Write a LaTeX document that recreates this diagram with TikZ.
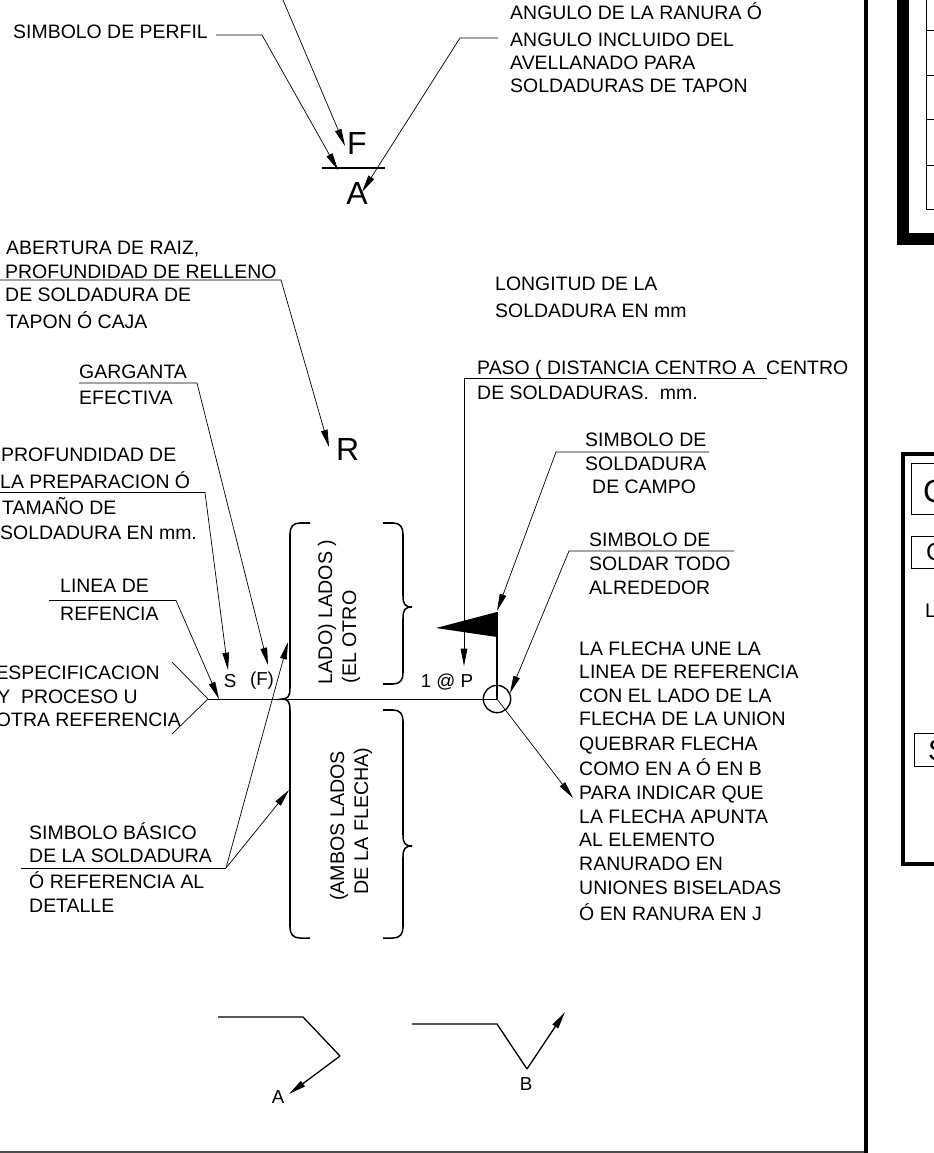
\documentclass[tikz,border=0pt]{standalone}
\usepackage{fontspec}
\setmainfont{Liberation Sans}
\usetikzlibrary{arrows.meta}

\tikzset{
    lbl/.style={anchor=base west, inner sep=0pt, font=\fontsize{16.6}{18}\selectfont},
    lblr/.style={lbl, anchor=base east},
    vlbl/.style={inner sep=0pt, rotate=90, font=\fontsize{16.8}{18}\selectfont},
    weldsym/.style={inner sep=0pt, font=\fontsize{27.3}{30}\selectfont},
    smallsym/.style={inner sep=0pt, font=\fontsize{16}{18}\selectfont},
    ldr/.style={black, line width=0.6pt},
    ldrtip/.style={ldr, -{Triangle[length=0.52cm, width=0.2cm]}},
    brc/.style={line width=1.3pt},
    bent/.style={line width=1.1pt}
}

\begin{document}
\begin{tikzpicture}[x=0.03cm, y=-0.03cm]
    \useasboundingbox (0, 0) rectangle (934, 1153);

    % Sheet borders
    \draw[line width=0.12cm] (866, 0) -- (866, 1153);
    \draw[line width=1.2pt, black!70] (0, 1152) -- (864, 1152);

    % Neighbouring table, top right
    \draw[line width=0.36cm] (903, 0) -- (903, 238.5) -- (934, 238.5);
    \draw[line width=0.6pt] (926, 0) -- (926, 209) -- (934, 209);
    \foreach \y in {30, 75, 119, 165} {
        \draw[line width=0.6pt] (926, \y) -- (934, \y);
    }

    % Neighbouring panel, lower right
    \draw[line width=0.12cm] (934, 454) -- (903, 454) -- (903, 864) -- (934, 864);
    \draw[line width=0.7pt] (934, 463) -- (911, 463) -- (911, 514) -- (934, 514);
    \draw[line width=0.7pt] (934, 536) -- (911, 536) -- (911, 568) -- (934, 568);
    \draw[line width=0.7pt] (934, 733) -- (914, 733) -- (914, 766) -- (934, 766);
    \node[weldsym, anchor=base west] (panelc) at (923, 502) {C};
    \node[inner sep=0pt, anchor=base west, font=\fontsize{21}{24}\selectfont] (panelcc) at (926, 560) {C};
    \node[inner sep=0pt, anchor=base west, font=\fontsize{16.8}{18}\selectfont] (panell) at (925, 617) {L};
    \node[inner sep=0pt, anchor=base west, font=\fontsize{25}{28}\selectfont] (panels) at (928, 760) {S};

    % Upper symbol F over A
    \node[weldsym, anchor=base west] (symf) at (347, 154) {F};
    \node[weldsym, anchor=base] (syma) at (357, 204) {A};
    \draw[line width=1pt] (322, 168) -- (385, 168);

    \node[lbl] (perfil) at (13, 39) {SIMBOLO DE PERFIL};
    \node[lbl] (angulo1) at (510, 20) {ANGULO DE LA RANURA Ó};
    \node[lbl] (angulo2) at (510, 47) {ANGULO INCLUIDO DEL};
    \node[lbl] (angulo3) at (510, 70) {AVELLANADO PARA};
    \node[lbl] (angulo4) at (510, 93) {SOLDADURAS DE TAPON};

    \coordinate (topend) at (283, 0);
    \coordinate (ftip) at (345, 146);
    \coordinate (perfilend) at (216, 35);
    \coordinate (perfilknee) at (262, 35);
    \coordinate (perfiltip) at (338, 170);
    \coordinate (anguloend) at (498, 38);
    \coordinate (anguloknee) at (460, 38);
    \coordinate (angulotip) at (362, 192);
    \draw[ldrtip] (topend) -- (ftip);
    \draw[ldrtip] (perfilend) -- (perfilknee) -- (perfiltip);
    \draw[ldrtip] (anguloend) -- (anguloknee) -- (angulotip);

    % Root opening
    \node[lbl] (raiz1) at (6, 254) {ABERTURA DE RAIZ,};
    \node[lbl] (raiz2) at (5, 278) {PROFUNDIDAD DE RELLENO};
    \node[lbl] (raiz3) at (5, 301) {DE SOLDADURA DE};
    \node[lbl] (raiz4) at (6, 328) {TAPON Ó CAJA};
    \node[weldsym, anchor=base west] (symr) at (336, 460) {R};
    \coordinate (raizend) at (0, 280);
    \coordinate (raizknee) at (281, 280);
    \coordinate (raiztip) at (329, 447);
    \draw[ldrtip] (raizend) -- (raizknee) -- (raiztip);

    % Weld length and pitch
    \node[lbl] (long1) at (495, 290) {LONGITUD DE LA};
    \node[lbl] (long2) at (495, 317) {SOLDADURA EN mm};
    \node[lbl] (paso1) at (477, 374) {PASO ( DISTANCIA CENTRO A \ CENTRO};
    \node[lbl] (paso2) at (477, 399) {DE SOLDADURAS. \ mm.};
    \coordinate (pasoend) at (767, 378);
    \coordinate (pasoknee) at (464, 378);
    \coordinate (pasotip) at (464, 666);
    \draw[ldrtip] (pasoend) -- (pasoknee) -- (pasotip);

    % Effective throat
    \node[lbl] (garganta1) at (79, 378) {GARGANTA};
    \node[lbl] (garganta2) at (79, 404) {EFECTIVA};
    \coordinate (gargend) at (79, 383);
    \coordinate (gargknee) at (197, 383);
    \coordinate (gargtip) at (268, 665);
    \draw[ldrtip] (gargend) -- (gargknee) -- (gargtip);

    % Groove depth
    \node[lbl] (prof1) at (1, 461) {PROFUNDIDAD DE};
    \node[lbl] (prof2) at (0, 488) {LA PREPARACION Ó};
    \node[lbl] (prof3) at (2, 514) {TAMAÑO DE};
    \node[lbl] (prof4) at (0, 539) {SOLDADURA EN mm.};
    \coordinate (profend) at (0, 492.5);
    \coordinate (profknee) at (205, 492.5);
    \coordinate (proftip) at (228, 670);
    \draw[ldrtip] (profend) -- (profknee) -- (proftip);

    % Reference line with tail
    \node[lbl] (linea1) at (60, 592) {LINEA DE};
    \node[lbl] (linea2) at (60, 620) {REFENCIA};
    \node[lblr] (esp1) at (160, 679) {ESPECIFICACION};
    \node[lblr] (esp2) at (138, 703) {Y \ PROCESO U};
    \node[lblr] (esp3) at (181, 726) {OTRA REFERENCIA};
    \coordinate (lineaend) at (49, 600.5);
    \coordinate (lineaknee) at (176, 600.5);
    \coordinate (lineatip) at (219, 699);
    \draw[ldrtip] (lineaend) -- (lineaknee) -- (lineatip);

    \coordinate (tailtop) at (172, 662);
    \coordinate (tailbot) at (172, 734);
    \coordinate (refstart) at (208, 699);
    \coordinate (refend) at (497, 699);
    \draw[ldr] (tailtop) -- (refstart) -- (tailbot);
    \draw[ldr] (refstart) -- (refend);
    \node[smallsym, anchor=center] (dims) at (230, 681) {S};
    \node[smallsym, anchor=center] (dimf) at (262, 681) {(F)};
    \node[smallsym, anchor=center] (dimp) at (447, 682) {1 @ P};

    % Braces
    \draw[brc] (310, 523) -- (300, 523) .. controls (293, 523) and (290, 527) .. (290, 534) -- (290, 688)
        .. controls (290, 696) and (288, 699) .. (282, 699)
        .. controls (288, 699) and (290, 702) .. (290, 710) -- (290, 927)
        .. controls (290, 934) and (293, 938) .. (300, 938) -- (310, 938);
    \draw[brc] (383, 523) -- (393, 523) .. controls (400, 523) and (403, 527) .. (403, 534) -- (403, 596)
        .. controls (403, 604) and (405, 607) .. (412, 607)
        .. controls (405, 607) and (403, 610) .. (403, 618) -- (403, 673)
        .. controls (403, 680) and (400, 684) .. (393, 684) -- (383, 684);
    \draw[brc] (383, 710) -- (393, 710) .. controls (400, 710) and (403, 714) .. (403, 721) -- (403, 835)
        .. controls (403, 843) and (405, 846) .. (412, 846)
        .. controls (405, 846) and (403, 849) .. (403, 857) -- (403, 927)
        .. controls (403, 934) and (400, 938) .. (393, 938) -- (383, 938);
    \node[vlbl] (lado1) at (327, 612) {LADO) LADOS )};
    \node[vlbl] (lado2) at (351, 637) {(EL OTRO};
    \node[vlbl] (ambos1) at (339, 826) {(AMBOS LADOS};
    \node[vlbl] (ambos2) at (363, 821) {DE LA FLECHA)};

    % Field weld flag and weld-all-around circle
    \coordinate (flagtip) at (436, 628);
    \coordinate (flagtop) at (497, 612);
    \coordinate (flagbot) at (497, 637);
    \fill (flagtip) -- (flagtop) -- (flagbot) -- cycle;
    \draw[line width=1.2pt] (flagtop) -- (refend);
    \node[draw, circle, line width=1.2pt, minimum size=0.82cm, inner sep=0pt] (around) at (refend) {};

    \node[lbl] (campo1) at (585, 446) {SIMBOLO DE};
    \node[lbl] (campo2) at (585, 470) {SOLDADURA};
    \node[lbl] (campo3) at (592, 493) {DE CAMPO};
    \coordinate (campoend) at (709, 452);
    \coordinate (campoknee) at (556, 452);
    \coordinate (campotip) at (497, 611);
    \draw[ldrtip] (campoend) -- (campoknee) -- (campotip);

    \node[lbl] (todo1) at (589, 546) {SIMBOLO DE};
    \node[lbl] (todo2) at (589, 570) {SOLDAR TODO};
    \node[lbl] (todo3) at (589, 594) {ALREDEDOR};
    \coordinate (todoend) at (734, 551);
    \coordinate (todoknee) at (569, 551);
    \coordinate (todotip) at (510, 693);
    \draw[ldrtip] (todoend) -- (todoknee) -- (todotip);

    % Arrow note
    \node[lbl] (nota1) at (579, 655) {LA FLECHA UNE LA};
    \node[lbl] (nota2) at (579, 678) {LINEA DE REFERENCIA};
    \node[lbl] (nota3) at (579, 702) {CON EL LADO DE LA};
    \node[lbl] (nota4) at (579, 725) {FLECHA DE LA UNION};
    \node[lbl] (nota5) at (579, 750) {QUEBRAR FLECHA};
    \node[lbl] (nota6) at (579, 775) {COMO EN A Ó EN B};
    \node[lbl] (nota7) at (579, 799) {PARA INDICAR QUE};
    \node[lbl] (nota8) at (579, 823) {LA FLECHA APUNTA};
    \node[lbl] (nota9) at (579, 846) {AL ELEMENTO};
    \node[lbl] (nota10) at (579, 870) {RANURADO EN};
    \node[lbl] (nota11) at (579, 894) {UNIONES BISELADAS};
    \node[lbl] (nota12) at (579, 920) {Ó EN RANURA EN J};
    \coordinate (notatip) at (573, 798);
    \draw[ldrtip] (refend) -- (notatip);

    % Basic weld symbol
    \node[lbl] (basico1) at (29, 839) {SIMBOLO BÁSICO};
    \node[lbl] (basico2) at (29, 862) {DE LA SOLDADURA};
    \node[lbl] (basico3) at (29, 888) {Ó REFERENCIA AL};
    \node[lbl] (basico4) at (29, 912) {DETALLE};
    \coordinate (basicoend) at (21, 868);
    \coordinate (basicoknee) at (226, 868);
    \coordinate (basicotipa) at (288, 642);
    \coordinate (basicotipb) at (289, 790);
    \draw[ldr] (basicoend) -- (basicoknee);
    \draw[ldrtip] (basicoknee) -- (basicotipa);
    \draw[ldrtip] (basicoknee) -- (basicotipb);

    % Broken arrows
    \coordinate (benta1) at (218, 1017);
    \coordinate (benta2) at (303, 1017);
    \coordinate (benta3) at (340, 1056);
    \coordinate (benta4) at (289, 1094);
    \draw[bent] (benta1) -- (benta2) -- (benta3);
    \draw[bent, -{Triangle[length=0.52cm, width=0.2cm]}] (benta3) -- (benta4);
    \node[smallsym, anchor=center] (bentlbla) at (278, 1097) {A};

    \coordinate (bentb1) at (412, 1024);
    \coordinate (bentb2) at (497, 1024);
    \coordinate (bentb3) at (527, 1069);
    \coordinate (bentb4) at (565, 1012);
    \draw[bent] (bentb1) -- (bentb2) -- (bentb3);
    \draw[bent, -{Triangle[length=0.52cm, width=0.2cm]}] (bentb3) -- (bentb4);
    \node[smallsym, anchor=center] (bentlblb) at (526, 1084) {B};
\end{tikzpicture}
\end{document}
